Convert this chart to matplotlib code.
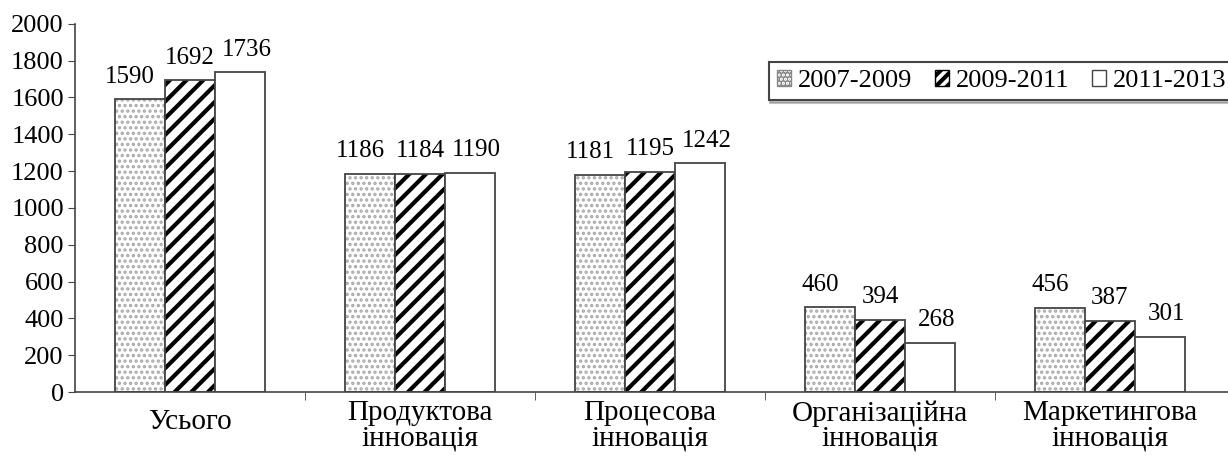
import numpy as np
import matplotlib
matplotlib.use("Agg")
import matplotlib.pyplot as plt
import matplotlib.transforms as mtransforms

plt.rcParams['font.family'] = ['Liberation Serif', 'DejaVu Serif']

categories = ["Усього", "Продуктова\nінновація", "Процесова\nінновація",
              "Організаційна\nінновація", "Маркетингова\nінновація"]
periods = ["2007-2009", "2009-2011", "2011-2013"]
v_2007_2009 = [1590, 1186, 1181, 460, 456]
v_2009_2011 = [1692, 1184, 1195, 394, 387]
v_2011_2013 = [1736, 1190, 1242, 268, 301]
series = [v_2007_2009, v_2009_2011, v_2011_2013]

fig = plt.figure(figsize=(12.28, 4.57), dpi=100)
ax = fig.add_axes([0.061, 0.142, 0.939, 0.806])

x = np.arange(len(categories))
w = 0.217
edge = "#444444"
label_dx = [-7, 0, 5]   # points, keeps neighbouring labels apart
handles = []
for i, vals in enumerate(series):
    pos = x + (i - 1) * w
    if i == 0:
        # dotted fill: grey dots, then the dark outline on top
        plt.rcParams['hatch.linewidth'] = 1.6
        ax.bar(pos, vals, w, color="white", edgecolor="#a8a8a8", hatch="...", linewidth=0)
        ax.bar(pos, vals, w, color="none", edgecolor=edge, linewidth=1.3)
        h = ax.bar([0], [0], 0, color="white", edgecolor="#888888", hatch="....", linewidth=1)
    elif i == 1:
        plt.rcParams['hatch.linewidth'] = 3.0
        ax.bar(pos, vals, w, color="white", edgecolor="black", hatch="//", linewidth=0)
        ax.bar(pos, vals, w, color="none", edgecolor=edge, linewidth=1.3)
        h = ax.bar([0], [0], 0, color="white", edgecolor="black", hatch="///", linewidth=1)
    else:
        ax.bar(pos, vals, w, color="white", edgecolor=edge, linewidth=1.3)
        h = ax.bar([0], [0], 0, color="white", edgecolor=edge, linewidth=1)
    handles.append(h)
    for p, v in zip(pos, vals):
        ax.annotate(str(v), (p, v), xytext=(label_dx[i], 12), textcoords="offset points",
                    ha="center", va="baseline", fontsize=18)

ax.set_ylim(0, 2000)
ax.set_xlim(-0.5, 4.513)
ax.set_yticks(range(0, 2001, 200))
ax.tick_params(axis="y", labelsize=19, length=5, color=edge, pad=3)
ax.set_xticks(x)
ax.set_xticklabels(categories, fontsize=21, linespacing=0.95)
ax.tick_params(axis="x", length=0, pad=6)
ax.set_xticks(np.arange(0.5, 4.5, 1), minor=True)
ax.tick_params(axis="x", which="minor", length=6, color=edge)
# the single-line label sits a little lower than the two-line ones
lab0 = ax.get_xticklabels()[0]
lab0.set_transform(lab0.get_transform() +
                   mtransforms.ScaledTranslation(0, -6 / 72, fig.dpi_scale_trans))
for s in ["top", "right"]:
    ax.spines[s].set_visible(False)
for s in ["left", "bottom"]:
    ax.spines[s].set_color(edge)
    ax.spines[s].set_linewidth(1.2)

leg = fig.legend(handles, periods, loc="upper left",
                 bbox_to_anchor=(769 / 1228, 1 - 62 / 457), ncol=3,
                 fontsize=19, frameon=True, fancybox=False,
                 shadow={'ox': 1, 'oy': -2, 'shade': 0.5},
                 handlelength=0.55, handleheight=0.55, handletextpad=0.25,
                 columnspacing=0.85, borderpad=0.3, borderaxespad=0)
leg.get_frame().set_edgecolor(edge)
leg.get_frame().set_linewidth(1.5)

fig.savefig("out.png", dpi=100)
